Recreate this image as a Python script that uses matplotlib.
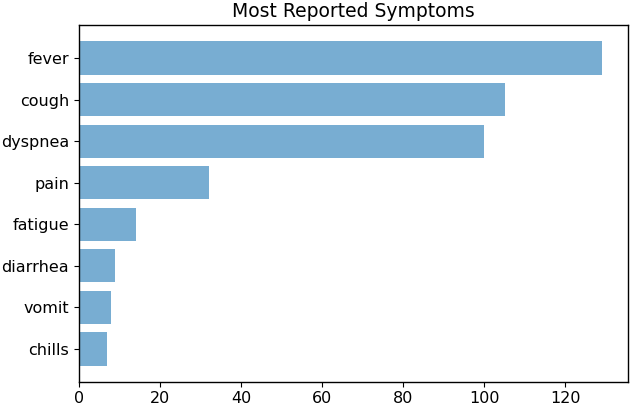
import numpy as np
import matplotlib
matplotlib.use("Agg")
import matplotlib.pyplot as plt

symptoms = ["fever", "cough", "dyspnea", "pain", "fatigue", "diarrhea", "vomit", "chills"]
counts = [129, 105, 100, 32, 14, 9, 8, 7]

fig = plt.figure(figsize=(6.3, 4.07), dpi=100)
ax = fig.add_axes([0.125, 0.062, 0.872, 0.876])
y_pos = np.arange(len(symptoms))
ax.barh(y_pos, counts, align="center", color="C0", alpha=0.6)
ax.set_yticks(y_pos)
ax.set_yticklabels(symptoms, fontsize=11.5)
ax.invert_yaxis()
ax.tick_params(axis="x", labelsize=11.5)
for s in ax.spines.values():
    s.set_linewidth(1.0)
ax.set_title("Most Reported Symptoms", fontsize=13.5)
fig.savefig("out.png", dpi=100)
